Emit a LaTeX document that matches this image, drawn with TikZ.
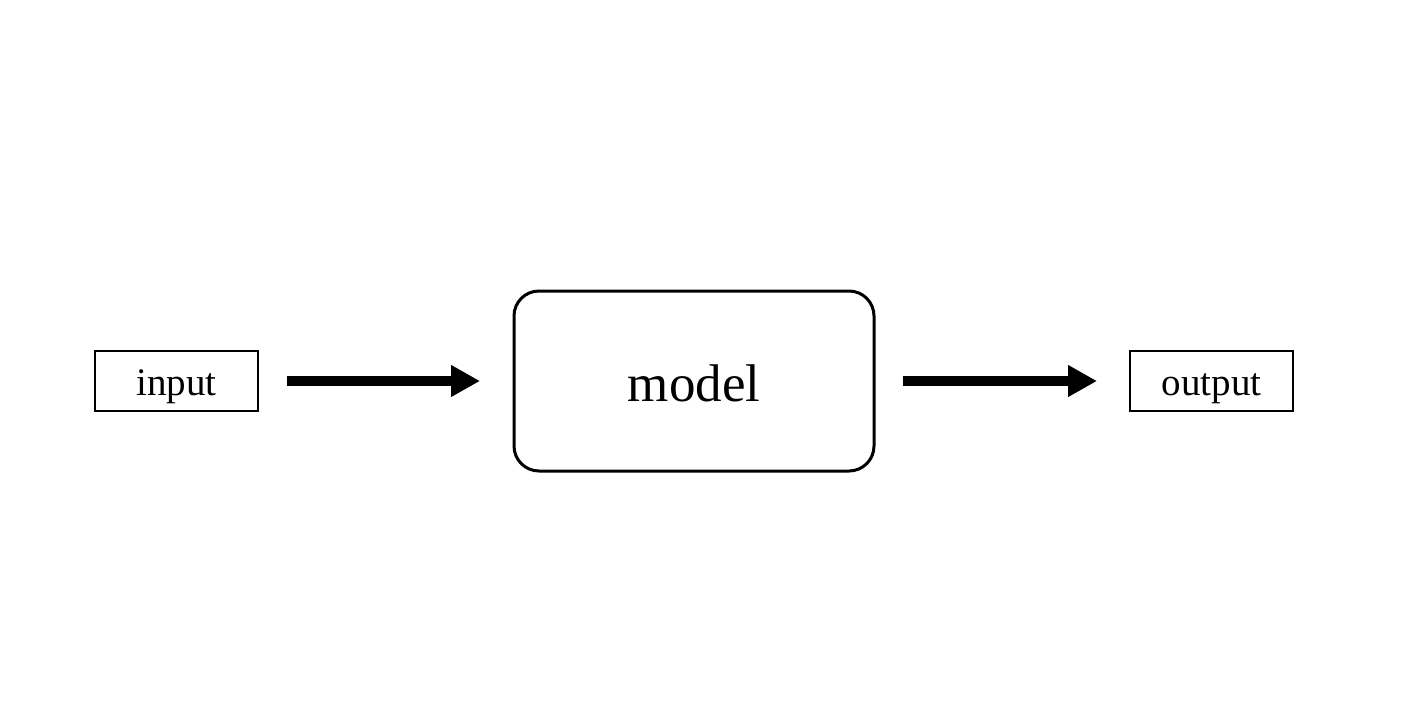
\documentclass[tikz,border=0pt]{standalone}
\usepackage{fontspec}
\setmainfont{Liberation Serif}
\usetikzlibrary{arrows.meta}
\begin{document}
\begin{tikzpicture}[x=1pt,y=-1pt,
  smallbox/.style={draw, line width=2pt, minimum width=163pt, minimum height=60pt, inner sep=0pt, text height=28pt, text depth=0pt, font=\fontsize{39}{44}\selectfont},
  modelbox/.style={draw, line width=3pt, rounded corners=25pt, minimum width=360pt, minimum height=180pt, inner sep=0pt, text height=40pt, text depth=0pt, font=\fontsize{53}{60}\selectfont},
  flow/.style={line width=10pt, -{Triangle[length=29pt,width=30pt]}}]
\useasboundingbox (0,0) rectangle (1408,726);
\node[smallbox] (in) at (176.5,381) {input};
\node[modelbox] (model) at (694,381) {model};
\node[smallbox] (out) at (1211.5,381) {output};
\draw[flow, shorten <=28pt, shorten >=32.5pt] (in.east) -- (model.west);
\draw[flow, shorten <=27.5pt, shorten >=32pt] (model.east) -- (out.west);
\end{tikzpicture}
\end{document}
